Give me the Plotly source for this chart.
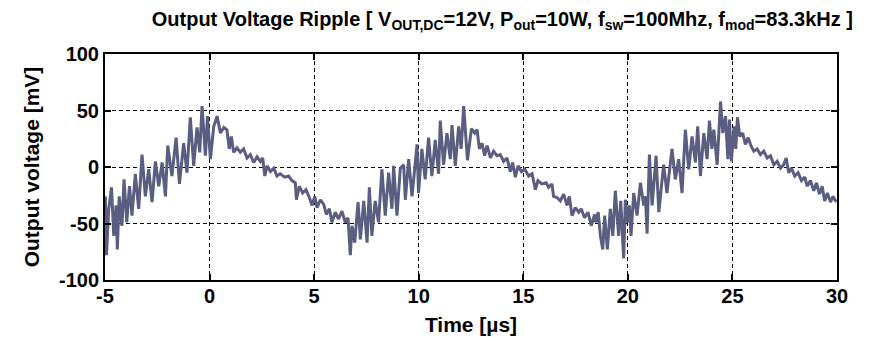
import plotly.graph_objects as go

# Time samples [µs]
time_us = [
    -4.98, -4.93, -4.82, -4.69, -4.58, -4.47, -4.41, -4.32, -4.19, -4.09,
    -3.96, -3.83, -3.71, -3.55, -3.39, -3.23, -3.07, -2.91, -2.75, -2.59,
    -2.43, -2.27, -2.11, -2.00, -1.80, -1.60, -1.44, -1.24, -1.08, -0.92,
    -0.76, -0.60, -0.47, -0.36, -0.20, -0.10, 0.04, 0.20, 0.36, 0.52,
    0.68, 0.83, 0.94, 1.04, 1.15, 1.31, 1.47, 1.63, 1.79, 1.95,
    2.11, 2.27, 2.43, 2.54, 2.64, 2.75, 2.91, 3.07, 3.22, 3.38,
    3.59, 3.78, 3.94, 4.10, 4.15, 4.29, 4.45, 4.61, 4.77, 4.90,
    5.03, 5.14, 5.30, 5.46, 5.58, 5.73, 5.85, 6.01, 6.17, 6.33,
    6.49, 6.62, 6.73, 6.81, 6.94, 7.02, 7.10, 7.21, 7.37, 7.53,
    7.64, 7.76, 7.92, 8.08, 8.24, 8.40, 8.56, 8.72, 8.80, 8.96,
    9.12, 9.28, 9.36, 9.52, 9.68, 9.92, 9.99, 10.15, 10.31, 10.47,
    10.63, 10.79, 10.95, 11.03, 11.19, 11.35, 11.51, 11.59, 11.75, 11.91,
    12.03, 12.15, 12.33, 12.52, 12.68, 12.79, 12.90, 13.03, 13.15, 13.27,
    13.43, 13.58, 13.74, 13.90, 14.06, 14.22, 14.38, 14.49, 14.62, 14.75,
    14.91, 15.07, 15.26, 15.42, 15.58, 15.70, 15.89, 16.09, 16.21, 16.37,
    16.45, 16.61, 16.77, 16.93, 17.09, 17.20, 17.33, 17.49, 17.65, 17.77,
    17.93, 18.09, 18.25, 18.41, 18.47, 18.58, 18.69, 18.80, 18.89, 19.02,
    19.16, 19.28, 19.40, 19.56, 19.66, 19.80, 19.88, 19.99, 20.07, 20.15,
    20.28, 20.44, 20.60, 20.76, 20.84, 20.92, 21.03, 21.16, 21.35, 21.48,
    21.71, 21.87, 22.11, 22.27, 22.43, 22.59, 22.75, 22.91, 23.07, 23.23,
    23.34, 23.47, 23.63, 23.79, 23.90, 24.02, 24.11, 24.27, 24.43, 24.54,
    24.67, 24.78, 24.86, 24.95, 25.08, 25.16, 25.24, 25.35, 25.49, 25.62,
    25.75, 25.88, 26.02, 26.18, 26.34, 26.50, 26.66, 26.82, 26.98, 27.14,
    27.30, 27.45, 27.57, 27.69, 27.82, 27.98, 28.14, 28.30, 28.46, 28.57,
    28.73, 28.89, 29.02, 29.16, 29.29, 29.41, 29.54, 29.69, 29.81, 29.96,
]

# Output voltage ripple [mV]
ripple_mV = [
    -26, -78, -37, -18, -61, -34, -73, -26, -52, -11,
    -49, -17, -43, -6, -37, 11, -26, -2, -31, 5,
    -17, 4, -26, 19, -8, 26, -15, 21, -5, 44,
    1, 35, 13, 54, 10, 45, 7, 36, 45, 30,
    35, 33, 16, 27, 13, 17, 13, 16, 8, 11,
    4, 9, 5, 8, -8, 1, -4, -1, -8, -6,
    -9, -8, -12, -14, -29, -17, -23, -20, -27, -34,
    -26, -36, -29, -33, -42, -37, -49, -40, -46, -39,
    -49, -45, -78, -52, -67, -52, -31, -64, -30, -67,
    -18, -61, -30, -49, -2, -43, -5, -37, 1, -43,
    -1, 2, -29, 7, -26, 20, -23, 16, -11, 26,
    -8, 24, -6, 41, 2, 30, 7, 37, 1, 36,
    16, 54, 6, 34, 30, 33, 16, 21, 10, 19,
    8, 14, 10, 11, 5, 8, -4, 4, -9, 1,
    -4, -2, -8, -6, -20, -12, -15, -14, -18, -15,
    -26, -27, -30, -24, -34, -26, -43, -36, -40, -37,
    -45, -40, -52, -42, -49, -40, -61, -73, -43, -73,
    -37, -61, -21, -61, -30, -81, -29, -49, -34, -61,
    -23, -43, -14, -34, -26, -59, 11, -34, 10, -40,
    2, -23, 16, -11, 7, -23, 33, -2, 27, 4,
    36, -8, 30, 7, 41, 16, 33, 2, 58, 30,
    45, 7, 42, 5, 36, 16, 44, 27, 30, 20,
    26, 19, 14, 16, 11, 14, 8, 10, 2, 5,
    -1, 2, 8, -5, -1, -8, -5, -12, -9, -17,
    -12, -21, -14, -24, -17, -30, -23, -31, -26, -31,
]

x_ticks = [-5, 0, 5, 10, 15, 20, 25, 30]
y_ticks = [-100, -50, 0, 50, 100]

title_text = ("Output Voltage Ripple [ V<sub>OUT,DC</sub>=12V, P<sub>out</sub>=10W, "
              "f<sub>sw</sub>=100Mhz, f<sub>mod</sub>=83.3kHz ]")

FONT = "Liberation Sans, Arial, sans-serif"

fig = go.Figure()
fig.add_trace(go.Scatter(
    x=time_us, y=ripple_mV, mode="lines",
    line=dict(color="#5b5e80", width=3),
    showlegend=False,
))

axis_common = dict(
    showline=True, linecolor="black", linewidth=2, mirror="ticks",
    ticks="inside", ticklen=6, tickwidth=2, tickcolor="black",
    showgrid=True, gridcolor="black", gridwidth=1, griddash="4px,3px",
    zeroline=False, automargin=False,
    tickfont=dict(family=FONT, size=20, color="black"),
)

fig.update_xaxes(
    range=[-5, 30], tickvals=x_ticks, ticktext=["<b>%d</b>" % v for v in x_ticks],
    ticklabelstandoff=-3,
    title=dict(text="<b>Time [µs]</b>", font=dict(family=FONT, size=21, color="black"), standoff=11),
    **axis_common,
)
fig.update_yaxes(
    range=[-100, 100], tickvals=y_ticks, ticktext=["<b>%d</b>" % v for v in y_ticks],
    title=dict(text="<b>Output voltage [mV]</b>", font=dict(family=FONT, size=21, color="black"), standoff=14),
    **axis_common,
)

# page body has an 8px margin, so the figure is shrunk by 8px and margins offset
fig.update_layout(
    width=875, height=329,
    margin=dict(l=97, r=46, t=46, b=57),
    paper_bgcolor="white", plot_bgcolor="white",
    title=dict(text="<b>" + title_text + "</b>", x=0.565, xanchor="center", y=0.968, yanchor="middle",
               font=dict(family=FONT, size=20, color="black")),
    font=dict(family=FONT, color="black"),
)

fig.write_html("out.html")
